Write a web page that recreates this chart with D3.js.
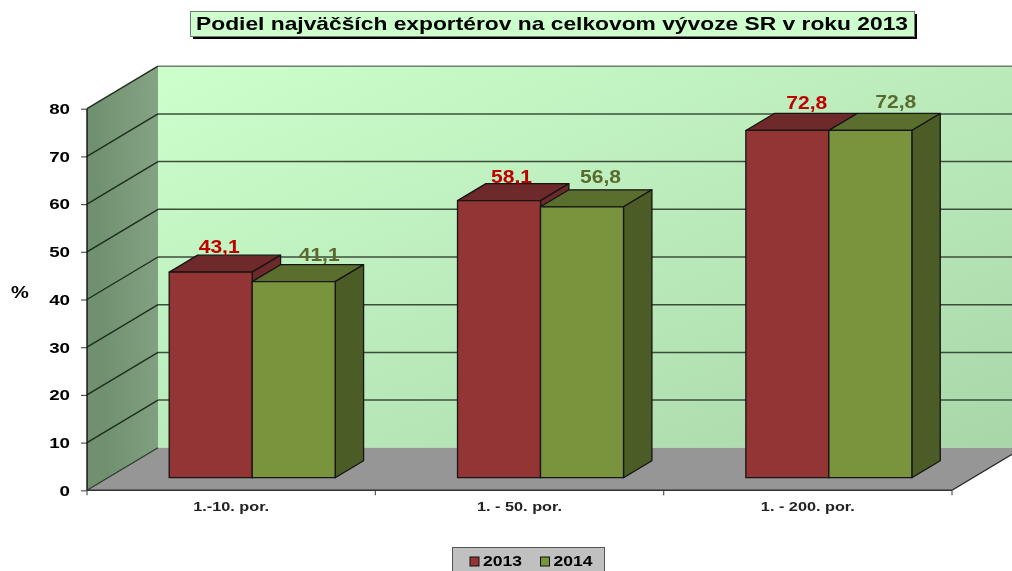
<!DOCTYPE html>
<html>
<head>
<meta charset="utf-8">
<script src="https://cdnjs.cloudflare.com/ajax/libs/d3/7.8.5/d3.min.js"></script>
<style>
html,body{margin:0;padding:0;background:#fff;overflow:hidden}
svg{display:block}
text{font-family:"Liberation Sans",Arial,sans-serif;font-weight:bold}
.axis path{display:none}
</style>
</head>
<body>
<svg id="c" width="1012" height="571"></svg>
<script>
const titleText = "Podiel najväčších exportérov na celkovom vývoze SR v roku 2013";
const categories = ["1.-10. por.", "1. - 50. por.", "1. - 200. por."];
const seriesNames = ["2013", "2014"];
const values2013 = [43.1, 58.1, 72.8];
const values2014 = [41.1, 56.8, 72.8];
const valueLabels2013 = ["43,1", "58,1", "72,8"];
const valueLabels2014 = ["41,1", "56,8", "72,8"];
const yTicks = [0, 10, 20, 30, 40, 50, 60, 70, 80];

const svg = d3.select("#c");
const defs = svg.append("defs");
function grad(id, stops, x2, y2) {
  const g = defs.append("linearGradient").attr("id", id)
    .attr("x1", 0).attr("y1", 0).attr("x2", x2).attr("y2", y2);
  stops.forEach(s => g.append("stop").attr("offset", s[0]).attr("stop-color", s[1]));
}
grad("back", [[0, "#ccffcc"], [1, "#a9d6a9"]], 1, 1);
grad("side", [[0, "#6f906f"], [1, "#86a586"]], 1, -0.25);
const blur = defs.append("filter").attr("id", "soft")
  .attr("x", "-2%").attr("y", "-2%").attr("width", "104%").attr("height", "104%");
blur.append("feGaussianBlur").attr("stdDeviation", 0.45);

const root = svg.append("g").attr("filter", "url(#soft)");

// The reference's type is stretched horizontally; keep real text and widen it.
function stretch(sel, factor) {
  sel.each(function () {
    const len = this.getComputedTextLength();
    d3.select(this).attr("textLength", len * factor).attr("lengthAdjust", "spacingAndGlyphs");
  });
  return sel;
}

// Plot geometry: the front plane of the 3D box, plus a receding depth vector
const x = d3.scaleBand().domain(categories).range([87, 952]);
const inner = d3.scaleBand().domain(seriesNames).range([0, x.step()])
  .paddingInner(0).paddingOuter(0.737);
const y = d3.scaleLinear().domain([0, 80]).range([490.3, 108.7]);
const DX = 71, DY = -42.5;
const project = (px, v, d) => [px + DX * d, y(v) + DY * d];
const poly = pts => pts.map(p => p.join(",")).join(" ");

// Back wall
const xL = x.range()[0], xR = x.range()[1];
root.append("polygon").attr("fill", "url(#back)")
  .attr("points", poly([project(xL, 80, 1), project(xR, 80, 1), project(xR, 0, 1), project(xL, 0, 1)]));
// Left wall
root.append("polygon").attr("fill", "url(#side)")
  .attr("points", poly([project(xL, 80, 0), project(xL, 80, 1), project(xL, 0, 1), project(xL, 0, 0)]));
// Floor
root.append("polygon").attr("fill", "#969696")
  .attr("points", poly([project(xL, 0, 0), project(xL, 0, 1), project(xR, 0, 1), project(xR, 0, 0)]));

// Gridlines
yTicks.filter(t => t > 0).forEach(t => {
  const a = project(xL, t, 0), b = project(xL, t, 1), c = project(xR, t, 1);
  root.append("line").attr("x1", a[0]).attr("y1", a[1]).attr("x2", b[0]).attr("y2", b[1])
    .attr("stroke", "#1e2e1e").attr("stroke-width", 1.4);
  root.append("line").attr("x1", b[0]).attr("y1", b[1]).attr("x2", c[0]).attr("y2", c[1])
    .attr("stroke", t === 80 ? "#6f7f6f" : "#3e4e3e").attr("stroke-width", 1.5);
});
// Floor front-right receding edge
const fr0 = project(xR, 0, 0), fr1 = project(xR, 0, 1);
root.append("line").attr("x1", fr0[0]).attr("y1", fr0[1]).attr("x2", fr1[0]).attr("y2", fr1[1])
  .attr("stroke", "#222").attr("stroke-width", 1.3);
const fl0 = project(xL, 0, 0), fl1 = project(xL, 0, 1);
root.append("line").attr("x1", fl0[0]).attr("y1", fl0[1]).attr("x2", fl1[0]).attr("y2", fl1[1])
  .attr("stroke", "#2a3a2a").attr("stroke-width", 1.2);

// Axes
const yAxis = d3.axisLeft(y).tickValues(yTicks).tickSize(6).tickPadding(11).tickFormat(d3.format("d"));
const yG = root.append("g").attr("class", "axis").attr("transform", "translate(87,0)").call(yAxis);
yG.selectAll("text").attr("font-size", 15).attr("fill", "#000").call(stretch, 1.25);
yG.selectAll("line").attr("stroke", "#555").attr("stroke-width", 1.2);
root.append("line").attr("x1", 87).attr("x2", 87).attr("y1", y(80)).attr("y2", y(0))
  .attr("stroke", "#111").attr("stroke-width", 1.4);

const xBase = d3.scaleOrdinal().domain([...categories, "end"])
  .range([...categories.map(c => x(c)), xR]);
[...categories, "end"].forEach(c => {
  root.append("line").attr("x1", xBase(c)).attr("x2", xBase(c))
    .attr("y1", y(0)).attr("y2", y(0) + 5).attr("stroke", "#555").attr("stroke-width", 1.2);
});
root.append("line").attr("x1", xL).attr("x2", xR).attr("y1", y(0)).attr("y2", y(0))
  .attr("stroke", "#333").attr("stroke-width", 1.4);
const xAxis = d3.axisBottom(x).tickSize(0).tickPadding(12);
const xG = root.append("g").attr("class", "axis").attr("transform", `translate(0,${y(0)})`).call(xAxis);
xG.selectAll("text").attr("font-size", 12.5).attr("fill", "#222").call(stretch, 1.3);

// Bars
const D0 = 0.296, D1 = 0.696;
const palette = {
  "2013": { front: "#943535", top: "#6e2929", side: "#6e2929", label: "#c00000", lx: [50, 54, 61], ly: [-19, -18, -21] },
  "2014": { front: "#7a933c", top: "#5a6e2d", side: "#4c5c26", label: "#5a6b2e", lx: [67, 60, 67], ly: [-21, -24, -22] }
};
const data = seriesNames.map((s, i) => ({
  s, vals: i === 0 ? values2013 : values2014, labs: i === 0 ? valueLabels2013 : valueLabels2014
}));
const lab = [];
categories.forEach((c, ci) => {
  data.forEach(d => {
    const x0 = x(c) + inner(d.s), x1 = x0 + inner.bandwidth(), v = d.vals[ci], col = palette[d.s];
    const g = root.append("g").attr("stroke", "#141414").attr("stroke-width", 1.3).attr("stroke-linejoin", "round");
    g.append("polygon").attr("fill", col.top)
      .attr("points", poly([project(x0, v, D0), project(x0, v, D1), project(x1, v, D1), project(x1, v, D0)]));
    g.append("polygon").attr("fill", col.side)
      .attr("points", poly([project(x1, v, D0), project(x1, v, D1), project(x1, 0, D1), project(x1, 0, D0)]));
    g.append("polygon").attr("fill", col.front)
      .attr("points", poly([project(x0, v, D0), project(x1, v, D0), project(x1, 0, D0), project(x0, 0, D0)]));
    const p = project(x0, v, D0);
    lab.push({ x: p[0] + col.lx[ci], y: p[1] + col.ly[ci], t: d.labs[ci], c: col.label });
  });
});
root.selectAll("text.val").data(lab).enter().append("text").attr("class", "val")
  .attr("x", d => d.x).attr("y", d => d.y).attr("text-anchor", "middle")
  .attr("font-size", 18).attr("fill", d => d.c).text(d => d.t).call(stretch, 1.17);

// "%" axis label
root.append("text").attr("x", 20).attr("y", 298).attr("text-anchor", "middle")
  .attr("font-size", 16).attr("fill", "#000").text("%").call(stretch, 1.25);

// Title
root.append("rect").attr("x", 193).attr("y", 14).attr("width", 724).attr("height", 25).attr("fill", "#000");
root.append("rect").attr("x", 190.5).attr("y", 11.5).attr("width", 724).attr("height", 25)
  .attr("fill", "#ccffcc").attr("stroke", "#777").attr("stroke-width", 1);
root.append("text").attr("x", 196).attr("y", 30).attr("font-size", 18.5)
  .attr("textLength", 712).attr("lengthAdjust", "spacingAndGlyphs").attr("fill", "#000").text(titleText);

// Legend
root.append("rect").attr("x", 452.5).attr("y", 547.5).attr("width", 152).attr("height", 30)
  .attr("fill", "#c0c0c0").attr("stroke", "#555").attr("stroke-width", 1);
const lx = d3.scaleOrdinal().domain(seriesNames).range([470, 540.5]);
seriesNames.forEach(s => {
  root.append("rect").attr("x", lx(s)).attr("y", 557).attr("width", 9).attr("height", 9)
    .attr("fill", palette[s].front).attr("stroke", "#111").attr("stroke-width", 1);
  root.append("text").attr("x", lx(s) + 13).attr("y", 566).attr("font-size", 15)
    .attr("fill", "#000").text(s).call(stretch, 1.17);
});
</script>
</body>
</html>
